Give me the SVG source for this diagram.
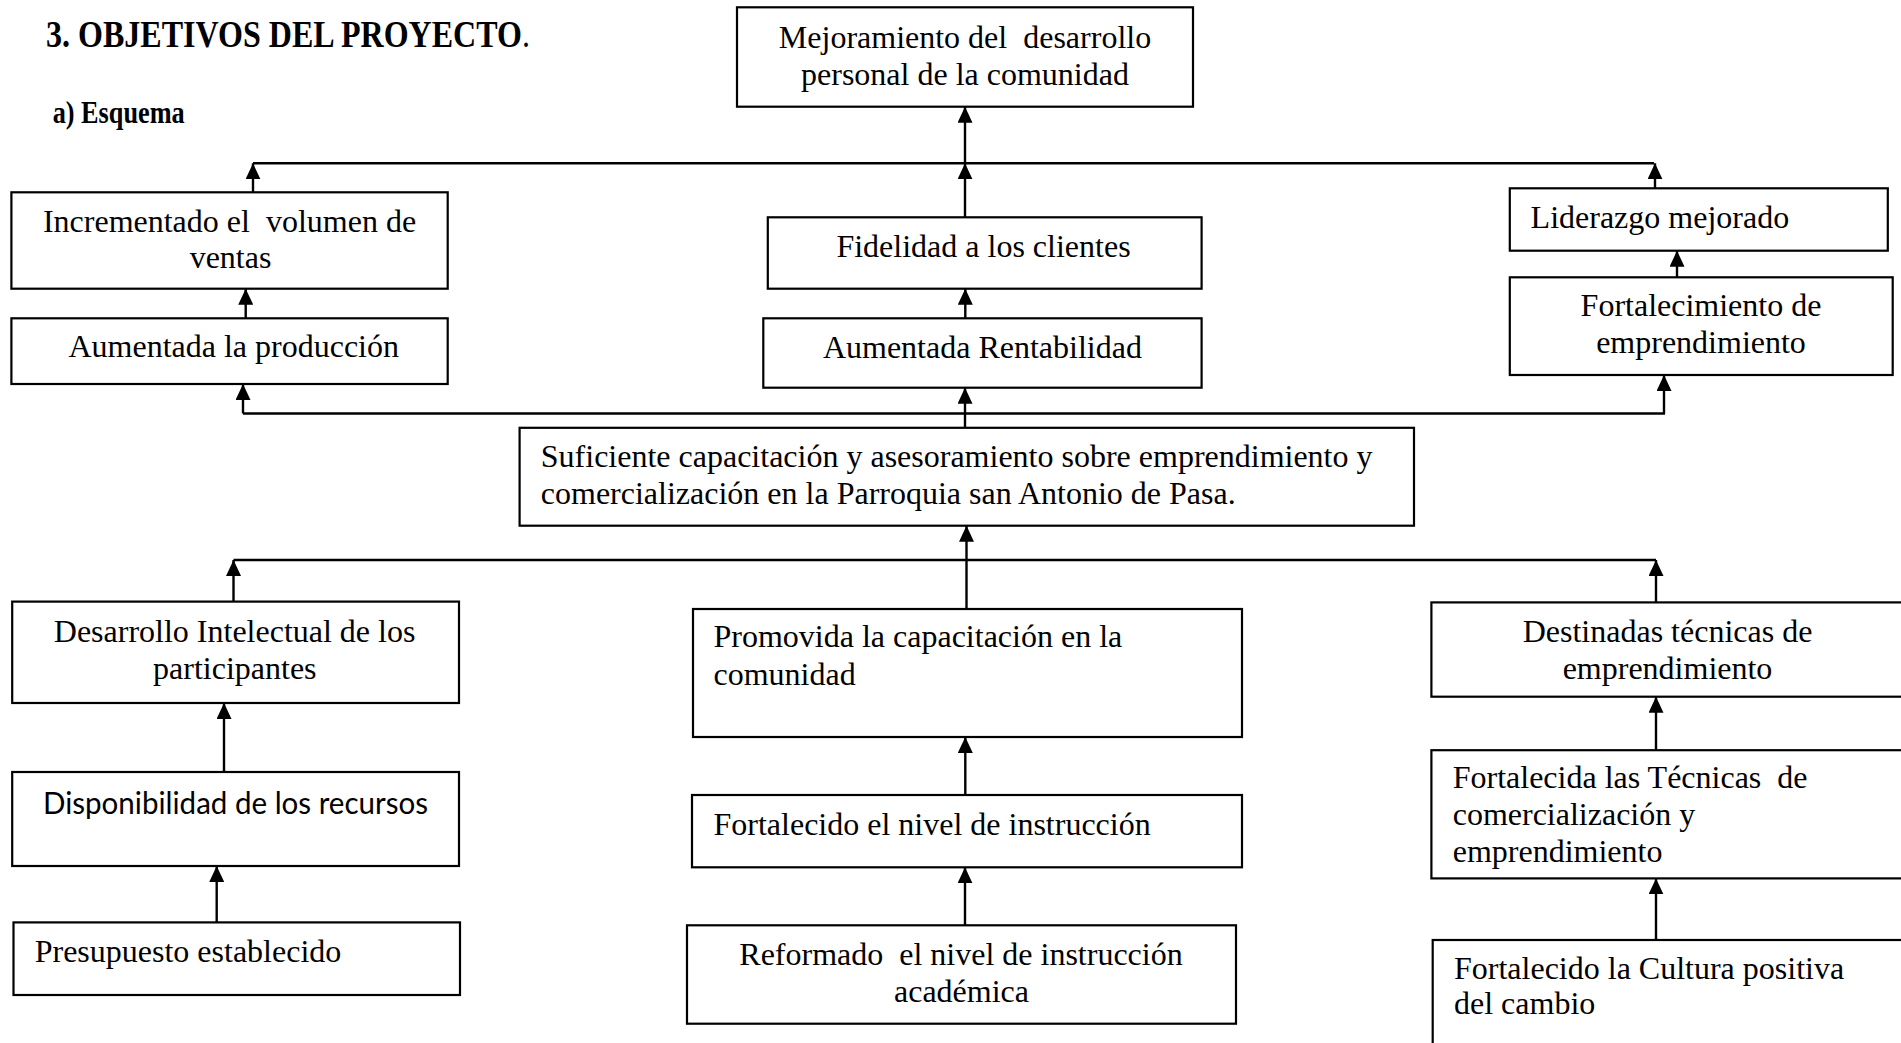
<svg xmlns="http://www.w3.org/2000/svg" width="1901" height="1043" viewBox="0 0 1901 1043">
<style>
  .box { fill: #ffffff; stroke: #000000; stroke-width: 2.2; }
  .t { font-family: "Liberation Serif", "Times New Roman", serif; font-size: 32px; fill: #000000; }
  .c { text-anchor: middle; }
  .sans { font-family: Lato, "Open Sans", "Liberation Sans", sans-serif; font-size: 31px; fill: #000000; }
  .hd { font-family: "Liberation Serif", "Times New Roman", serif; font-weight: bold; fill: #000000; }
  .ln { fill: none; stroke: #000000; stroke-width: 2.4; }
  .ar { fill: none; stroke: #000000; stroke-width: 2.4; marker-end: url(#ah); }
</style>
<defs>
  <marker id="ah" markerUnits="userSpaceOnUse" markerWidth="16" markerHeight="15" refX="16" refY="7.5" orient="auto">
    <path d="M0,0 L16,7.5 L0,15 z" fill="#000000"/>
  </marker>
</defs>
<rect x="0" y="0" width="1901" height="1043" fill="#ffffff"/>

<g id="heading">
  <text class="hd" x="46" y="47.3" font-size="32" textLength="484" lengthAdjust="spacingAndGlyphs" transform="matrix(1,0,0,1.16,0,-7.57)">3. OBJETIVOS DEL PROYECTO<tspan font-weight="normal">.</tspan></text>
  <text class="hd" x="52.7" y="123" font-size="26.3" textLength="132" lengthAdjust="spacingAndGlyphs" transform="matrix(1,0,0,1.18,0,-22.14)">a) Esquema</text>
</g>

<g id="connectors">
  <path class="ln" d="M253,163.3 H1654"/>
  <path class="ar" d="M965,163.3 V106.7"/>
  <path class="ar" d="M253,192.3 V163.3"/>
  <path class="ar" d="M965,217.3 V163.3"/>
  <path class="ar" d="M1655,188.3 V163.3"/>
  <path class="ar" d="M245.7,318.3 V288.7"/>
  <path class="ar" d="M965.3,318.3 V288.7"/>
  <path class="ar" d="M1677,277.3 V250.7"/>
  <path class="ln" d="M243,413.5 H1665"/>
  <path class="ar" d="M243,413.5 V384"/>
  <path class="ar" d="M965,427.8 V387.7"/>
  <path class="ar" d="M1664,413.5 V375"/>
  <path class="ln" d="M233.5,560 H1656"/>
  <path class="ar" d="M233.5,601.6 V560"/>
  <path class="ar" d="M966.5,609 V525.7"/>
  <path class="ar" d="M1656,602.4 V560"/>
  <path class="ar" d="M224,771.4 V703"/>
  <path class="ar" d="M216.7,922.4 V866"/>
  <path class="ar" d="M965.3,795 V737"/>
  <path class="ar" d="M965,925.3 V867.3"/>
  <path class="ar" d="M1656,750.2 V696.7"/>
  <path class="ar" d="M1656,940 V878.4"/>
</g>

<g id="n_mejoramiento">
  <rect class="box" x="737" y="7.3" width="456" height="99.4"/>
  <text class="t c" x="965" y="47.7" xml:space="preserve">Mejoramiento del  desarrollo</text>
  <text class="t c" x="965" y="85">personal de la comunidad</text>
</g>
<g id="n_incrementado">
  <rect class="box" x="11.4" y="192.3" width="436.3" height="96.4"/>
  <text class="t c" x="229.5" y="231.7" xml:space="preserve">Incrementado el  volumen de</text>
  <text class="t c" x="230.5" y="268.3">ventas</text>
</g>
<g id="n_produccion">
  <rect class="box" x="11.4" y="318.3" width="436.3" height="65.7"/>
  <text class="t c" x="233.7" y="357.3">Aumentada la producción</text>
</g>
<g id="n_fidelidad">
  <rect class="box" x="767.8" y="217.3" width="433.8" height="71.4"/>
  <text class="t c" x="983.5" y="256.7">Fidelidad a los clientes</text>
</g>
<g id="n_rentabilidad">
  <rect class="box" x="763.3" y="318.3" width="438.3" height="69.4"/>
  <text class="t c" x="982.4" y="358.3">Aumentada Rentabilidad</text>
</g>
<g id="n_liderazgo">
  <rect class="box" x="1509.8" y="188.3" width="378" height="62.4"/>
  <text class="t" x="1530.6" y="228.3">Liderazgo mejorado</text>
</g>
<g id="n_fortalecimiento">
  <rect class="box" x="1509.8" y="277.3" width="382.9" height="97.7"/>
  <text class="t c" x="1701" y="316">Fortalecimiento de</text>
  <text class="t c" x="1701" y="353.3">emprendimiento</text>
</g>
<g id="n_suficiente">
  <rect class="box" x="519.6" y="427.8" width="894.4" height="97.9"/>
  <text class="t" x="540.8" y="467">Suficiente capacitación y asesoramiento sobre emprendimiento y</text>
  <text class="t" x="540.8" y="504">comercialización en la Parroquia san Antonio de Pasa.</text>
</g>
<g id="n_desarrollo">
  <rect class="box" x="12.2" y="601.6" width="446.8" height="101.4"/>
  <text class="t c" x="234.6" y="641.6">Desarrollo Intelectual de los</text>
  <text class="t c" x="234.8" y="678.8">participantes</text>
</g>
<g id="n_disponibilidad">
  <rect class="box" x="12.2" y="772" width="446.8" height="94"/>
  <text class="sans" x="43" y="814" textLength="385" lengthAdjust="spacingAndGlyphs">Disponibilidad de los recursos</text>
</g>
<g id="n_presupuesto">
  <rect class="box" x="13.5" y="922.4" width="446.5" height="72.6"/>
  <text class="t" x="34.7" y="962">Presupuesto establecido</text>
</g>
<g id="n_promovida">
  <rect class="box" x="693" y="609" width="549" height="128"/>
  <text class="t" x="713.5" y="647">Promovida la capacitación en la</text>
  <text class="t" x="713.5" y="685">comunidad</text>
</g>
<g id="n_fortalecido_nivel">
  <rect class="box" x="692" y="795" width="550" height="72.3"/>
  <text class="t" x="713.5" y="834.7">Fortalecido el nivel de instrucción</text>
</g>
<g id="n_reformado">
  <rect class="box" x="687" y="925.3" width="549" height="98.4"/>
  <text class="t c" x="961" y="965" xml:space="preserve">Reformado  el nivel de instrucción</text>
  <text class="t c" x="961.5" y="1002">académica</text>
</g>
<g id="n_destinadas">
  <rect class="box" x="1431.4" y="602.4" width="480" height="94.3"/>
  <text class="t c" x="1667.5" y="641.6">Destinadas técnicas de</text>
  <text class="t c" x="1667.5" y="678.8">emprendimiento</text>
</g>
<g id="n_fortalecida_tecnicas">
  <rect class="box" x="1431.4" y="750.2" width="480" height="128.2"/>
  <text class="t" x="1452.7" y="787.8" xml:space="preserve">Fortalecida las Técnicas  de</text>
  <text class="t" x="1452.7" y="825.3">comercialización y</text>
  <text class="t" x="1452.7" y="862">emprendimiento</text>
</g>
<g id="n_cultura">
  <rect class="box" x="1432.7" y="940" width="480" height="120"/>
  <text class="t" x="1454" y="978.8">Fortalecido la Cultura positiva</text>
  <text class="t" x="1454" y="1014">del cambio</text>
</g>
</svg>
